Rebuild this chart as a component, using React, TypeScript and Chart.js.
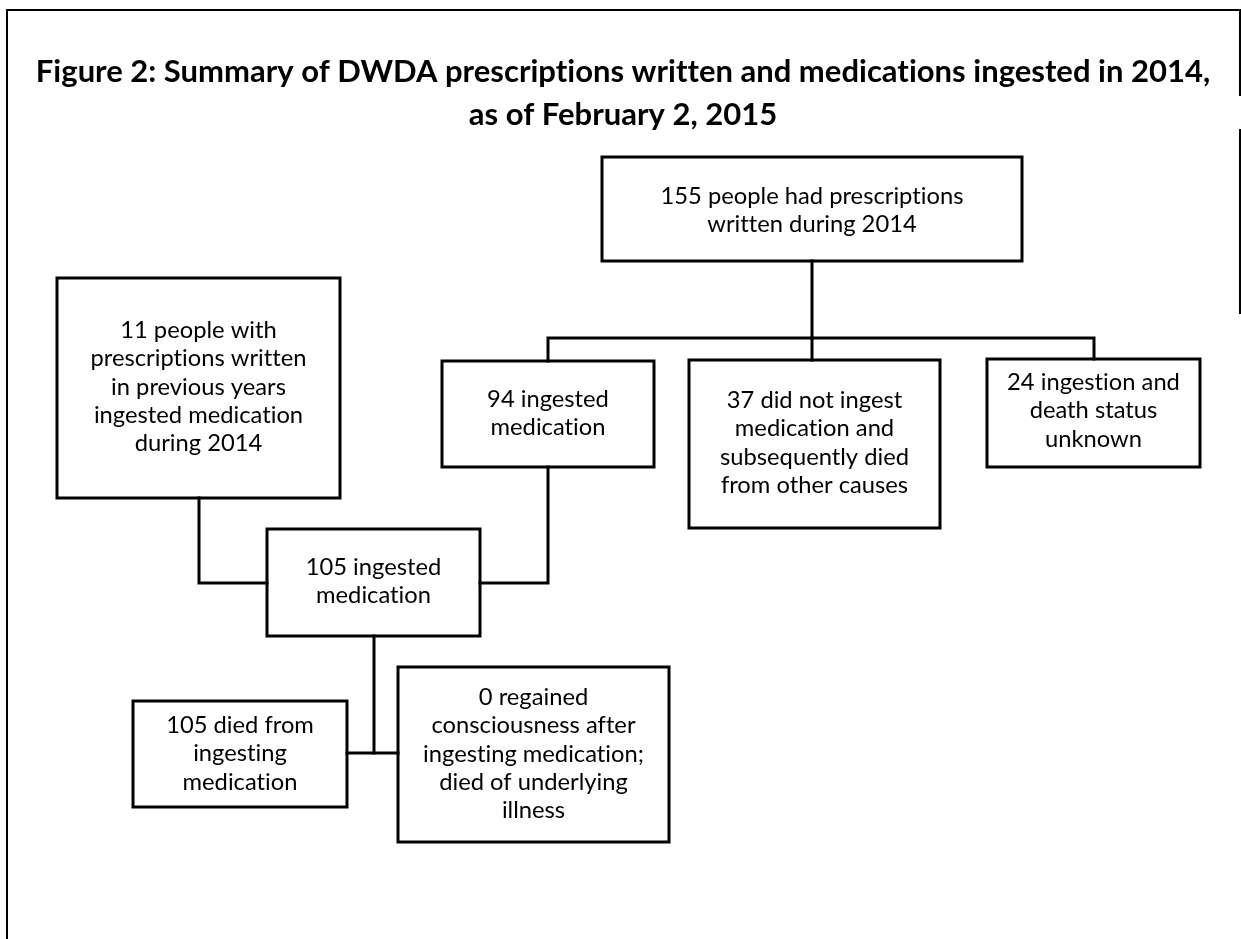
import React, { useEffect, useRef } from "react";
import { Chart, registerables } from "chart.js";

Chart.register(...registerables);

// ---- content ----
const titleLines = [
  "Figure 2: Summary of DWDA prescriptions written and medications ingested in 2014,",
  "as of February 2, 2015",
];

const nodeIds = ["written", "previous", "ingested94", "notIngested", "unknown", "ingested105", "died", "regained"];
const nodeCounts = [155, 11, 94, 37, 24, 105, 105, 0];
const nodeTexts = [
  ["{n} people had prescriptions", "written during 2014"],
  ["{n} people with", "prescriptions written", "in previous years", "ingested medication", "during 2014"],
  ["{n} ingested", "medication"],
  ["{n} did not ingest", "medication and", "subsequently died", "from other causes"],
  ["{n} ingestion and", "death status", "unknown"],
  ["{n} ingested", "medication"],
  ["{n} died from", "ingesting", "medication"],
  ["{n} regained", "consciousness after", "ingesting medication;", "died of underlying", "illness"],
];

// ---- layout (diagram space, 0..1241 x 0..939) ----
const boxLayout: Record<string, number[]> = {
  written: [602, 157, 1022, 261, 204],
  previous: [57, 278, 340, 498, 338],
  ingested94: [442, 361, 654, 467, 407],
  notIngested: [689, 360, 940, 528, 408],
  unknown: [987, 359, 1200, 467, 390],
  ingested105: [267, 529, 480, 636, 575],
  died: [133, 701, 347, 807, 733],
  regained: [398, 667, 669, 842, 705],
};
const connectors: number[][][] = [
  [[812, 261], [812, 338]],
  [[548, 361], [548, 338], [1094, 338], [1094, 359]],
  [[812, 338], [812, 360]],
  [[199, 498], [199, 583], [267, 583]],
  [[548, 467], [548, 583], [480, 583]],
  [[374, 636], [374, 753]],
  [[347, 753], [398, 753]],
];
const frame: number[][][] = [
  [[7, 939], [7, 10], [1240, 10], [1240, 95]],
  [[1240, 130], [1240, 313]],
];
const LINE_STEP = 28.3;
const TITLE_BASELINES = [82, 125];
const TITLE_CENTER = 623;
const TITLE_WIDTH = 1175;
const BODY_REF = "155 people had prescriptions";
const BODY_REF_WIDTH = 303;

export default function App() {
  const ref = useRef<HTMLCanvasElement | null>(null);

  useEffect(() => {
    document.body.style.margin = "0";
    const canvas = ref.current;
    if (!canvas) return;

    const datasets: any[] = [];
    const addPoly = (pts: number[][], width: number) => {
      datasets.push({
        type: "scatter",
        data: pts.map(([x, y]) => ({ x, y })),
        showLine: true,
        borderColor: "#000",
        backgroundColor: "#000",
        borderWidth: width,
        pointRadius: 0,
        pointHoverRadius: 0,
        borderJoinStyle: "miter",
        borderCapStyle: "square",
        tension: 0,
        fill: false,
        clip: false,
      });
    };
    frame.forEach((p) => addPoly(p, 2));
    connectors.forEach((p) => addPoly(p, 3));
    nodeIds.forEach((id) => {
      const [x1, y1, x2, y2] = boxLayout[id];
      addPoly([[x1, y1], [x2, y1], [x2, y2], [x1, y2], [x1, y1]], 3);
    });

    const textPlugin = {
      id: "flowText",
      afterDatasetsDraw(chart: any) {
        const { ctx, scales } = chart;
        const xs = scales.x;
        const ys = scales.y;
        ctx.save();
        ctx.fillStyle = "#000";
        ctx.textAlign = "center";
        ctx.textBaseline = "alphabetic";
        try {
          (ctx as any).textRendering = "optimizeSpeed";
        } catch (e) {}

        // title
        ctx.font = "bold 100px Lato";
        const tw = ctx.measureText(titleLines[0]).width;
        const tSize = (100 * TITLE_WIDTH) / tw;
        ctx.font = `bold ${tSize}px Lato`;
        titleLines.forEach((line, i) => {
          ctx.fillText(line, xs.getPixelForValue(TITLE_CENTER), ys.getPixelForValue(TITLE_BASELINES[i]));
        });

        // body
        ctx.font = "100px Lato";
        const bw = ctx.measureText(BODY_REF).width;
        const bSize = (100 * BODY_REF_WIDTH) / bw;
        ctx.font = `${bSize}px Lato`;
        nodeIds.forEach((id, i) => {
          const [x1, , x2, , base] = boxLayout[id];
          const cx = xs.getPixelForValue((x1 + x2) / 2);
          nodeTexts[i].forEach((line, j) => {
            const txt = line.replace("{n}", String(nodeCounts[i]));
            ctx.fillText(txt, cx, ys.getPixelForValue(base + j * LINE_STEP));
          });
        });
        ctx.restore();
      },
    };

    const chart = new Chart(canvas, {
      type: "scatter",
      data: { datasets },
      options: {
        animation: false,
        responsive: false,
        maintainAspectRatio: false,
        devicePixelRatio: 1,
        layout: { padding: 0 },
        events: [],
        plugins: { legend: { display: false }, tooltip: { enabled: false }, title: { display: false } },
        scales: {
          x: { type: "linear", min: 0, max: 1241, display: false },
          y: { type: "linear", min: 0, max: 939, reverse: true, display: false },
        },
      },
      plugins: [textPlugin],
    });
    return () => chart.destroy();
  }, []);

  return (
    <div style={{ width: 1241, height: 939, background: "#fff" }}>
      <canvas ref={ref} width={1241} height={939} style={{ display: "block" }} />
    </div>
  );
}
